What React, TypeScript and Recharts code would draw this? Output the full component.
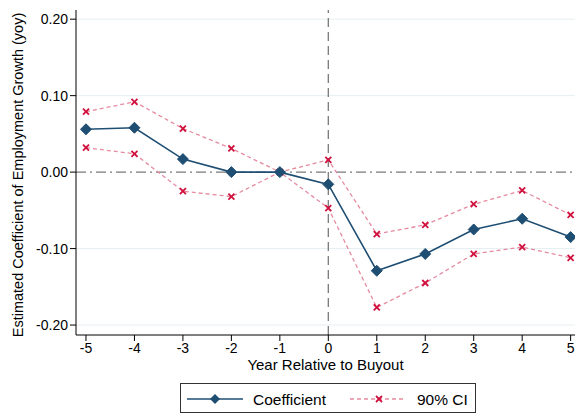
import { LineChart, Line, XAxis, YAxis, CartesianGrid, ReferenceLine } from "recharts";

const years = [-5, -4, -3, -2, -1, 0, 1, 2, 3, 4, 5];
const coefficient = [0.056, 0.058, 0.017, 0.0, 0.0, -0.016, -0.129, -0.107, -0.075, -0.061, -0.085];
const upperCI = [0.079, 0.092, 0.057, 0.031, 0.0, 0.016, -0.081, -0.069, -0.042, -0.024, -0.056];
const lowerCI = [0.032, 0.024, -0.025, -0.032, 0.0, -0.047, -0.177, -0.145, -0.107, -0.098, -0.112];
const yTicks = [-0.2, -0.1, 0, 0.1, 0.2];

const data = years.map((year, i) => ({
  year,
  coef: coefficient[i],
  hi: upperCI[i],
  lo: lowerCI[i],
}));

const NAVY = "#1f4e73";
const CI_LINE = "#e68aa0";
const CI_MARK = "#d0103d";
const FONT = "'Liberation Sans', Arial, sans-serif";

const Diamond = (props: any) => {
  const { cx, cy } = props;
  if (cx == null || cy == null) return null;
  const r = 5.5;
  return (
    <polygon
      points={`${cx},${cy - r} ${cx + r},${cy} ${cx},${cy + r} ${cx - r},${cy}`}
      fill={NAVY}
      stroke={NAVY}
    />
  );
};

const Cross = (props: any) => {
  const { cx, cy } = props;
  if (cx == null || cy == null) return null;
  const r = 3;
  return (
    <g stroke={CI_MARK} strokeWidth={1.8}>
      <line x1={cx - r} y1={cy - r} x2={cx + r} y2={cy + r} />
      <line x1={cx - r} y1={cy + r} x2={cx + r} y2={cy - r} />
    </g>
  );
};

// rotated y-axis title, centred on the plot height
const YTitle = () => (
  <text
    x={18}
    y={175}
    transform="rotate(-90, 18, 175)"
    textAnchor="middle"
    dominantBaseline="central"
    fill="#000"
    fontSize={14.5}
    fontFamily={FONT}
  >
    Estimated Coefficient of Employment Growth (yoy)
  </text>
);

const tickStyle = { fill: "#000", fontSize: 14, fontFamily: FONT };

export default function App() {
  return (
    <div style={{ position: "absolute", left: 0, top: 0, width: 576, height: 415, background: "#fff", fontFamily: FONT, overflow: "hidden" }}>
      <LineChart width={576} height={415} data={data} margin={{ top: 10, right: 1, left: 0, bottom: 0 }}>
        <CartesianGrid horizontal vertical={false} stroke="#e6eef1" horizontalValues={[-0.2, -0.1, 0.1, 0.2]} />
        <XAxis
          type="number"
          dataKey="year"
          domain={[-5.206, 5.09]}
          ticks={years}
          allowDataOverflow
          height={80}
          stroke="#000"
          tickSize={6}
          tick={tickStyle}
          tickFormatter={(v) => String(v)}
          label={{ value: "Year Relative to Buyout", position: "insideTop", offset: 24, fill: "#000", fontSize: 15, fontFamily: FONT }}
        />
        <YAxis
          type="number"
          domain={[-0.213, 0.212]}
          ticks={yTicks}
          allowDataOverflow
          width={76}
          stroke="#000"
          tickSize={6}
          tick={tickStyle}
          tickFormatter={(v) => Number(v).toFixed(2)}
          label={<YTitle />}
        />
        <ReferenceLine y={0} stroke="#7a7a7a" strokeWidth={1.3} strokeDasharray="10 4 2 4" />
        <ReferenceLine x={0} stroke="#7a7a7a" strokeWidth={1.3} strokeDasharray="9 5" />
        <Line dataKey="hi" stroke={CI_LINE} strokeWidth={1.3} strokeDasharray="4 3" dot={<Cross />} isAnimationActive={false} />
        <Line dataKey="lo" stroke={CI_LINE} strokeWidth={1.3} strokeDasharray="4 3" dot={<Cross />} isAnimationActive={false} />
        <Line dataKey="coef" stroke={NAVY} strokeWidth={1.6} dot={<Diamond />} isAnimationActive={false} />
      </LineChart>
      <svg width={298} height={32} style={{ position: "absolute", left: 179, top: 382 }}>
        <rect x={1.5} y={1.5} width={295} height={29} fill="#fff" stroke="#333" strokeWidth={1} />
        <line x1={8} y1={17} x2={64} y2={17} stroke={NAVY} strokeWidth={1.6} />
        <polygon points="36,12 41,17 36,22 31,17" fill={NAVY} />
        <text x={74} y={17} dominantBaseline="central" fontSize={15.5} fontFamily={FONT} fill="#000">
          Coefficient
        </text>
        <line x1={171} y1={17} x2={225} y2={17} stroke={CI_LINE} strokeWidth={1.3} strokeDasharray="4 3" />
        <g stroke={CI_MARK} strokeWidth={1.8}>
          <line x1={197} y1={14} x2={203} y2={20} />
          <line x1={197} y1={20} x2={203} y2={14} />
        </g>
        <text x={238} y={17} dominantBaseline="central" fontSize={15.5} fontFamily={FONT} fill="#000">
          90% CI
        </text>
      </svg>
    </div>
  );
}
